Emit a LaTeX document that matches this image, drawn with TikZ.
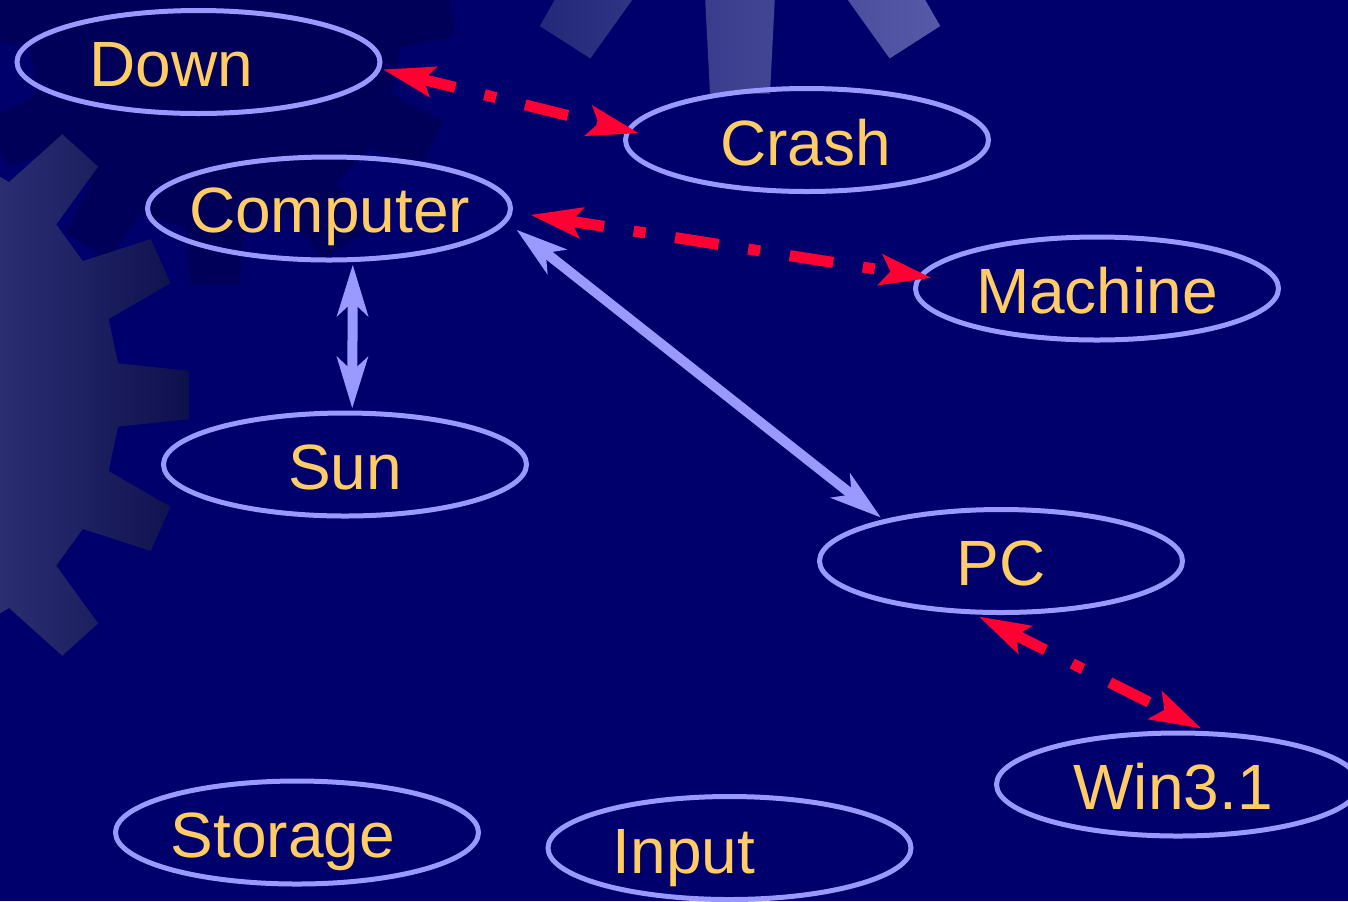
\documentclass[tikz,border=0pt]{standalone}
\usepackage{fontspec}
\setmainfont{Liberation Sans}
\usetikzlibrary{arrows.meta,shapes.geometric}

\definecolor{bgnavy}{RGB}{0,0,108}
\definecolor{rim}{RGB}{153,153,255}
\definecolor{gold}{RGB}{255,204,102}
\definecolor{alert}{RGB}{255,0,51}
\definecolor{cogdark}{RGB}{0,0,88}
\definecolor{cogleftA}{RGB}{44,48,116}
\definecolor{cogleftB}{RGB}{30,33,98}
\definecolor{cogleftC}{RGB}{10,11,72}
\definecolor{cogtopA}{RGB}{34,38,118}
\definecolor{cogtopB}{RGB}{88,92,170}

% outline of a cog: centre, teeth, tip radius, root radius,
% tip half-angle, root half-angle, direction of the first tooth
\newcommand{\cogpath}[7]{(#1) +({#7-#6}:#4)
  \foreach \k in {1,...,#2}{
    -- +({#7+(\k-1)*360/#2-#6}:#4)
    -- +({#7+(\k-1)*360/#2-#5}:#3)
    -- +({#7+(\k-1)*360/#2+#5}:#3)
    -- +({#7+(\k-1)*360/#2+#6}:#4)
  } -- cycle}

\tikzset{
  blob/.style={ellipse, draw=rim, line width=2.5pt, minimum width=181.5pt,
    minimum height=51.5pt, inner sep=0pt, outer sep=0pt},
  word/.style={text=gold, font=\fontsize{32pt}{38pt}\selectfont,
    anchor=base, inner sep=0pt},
  hotlink/.style={alert, line width=5.5pt,
    dash pattern=on 22pt off 15pt on 6pt off 15pt, dash phase=5.5pt,
    {Stealth[length=26pt,width=16pt,inset=5.5pt,line width=0pt]}-{Stealth[length=26pt,width=16pt,inset=5.5pt,line width=0pt]}},
  coldlink/.style={rim, line width=5pt,
    {Stealth[length=26pt,width=16pt,inset=7.5pt,line width=0pt]}-{Stealth[length=26pt,width=16pt,inset=7.5pt,line width=0pt]}}
}

\begin{document}
\begin{tikzpicture}[x=0.5pt, y=-0.5pt]
  \useasboundingbox (0,0) rectangle (1348,901);
  \fill[bgnavy] (0,0) rectangle (1348,901);
  \clip (0,0) rectangle (1348,901);

  % cogs in the background
  \fill[cogdark] \cogpath{215,45}{11}{240}{185}{6}{9}{90};
  \begin{scope}
    \clip \cogpath{-140,395}{15}{330}{260}{4.2}{7}{0};
    \shade[left color=cogleftA, middle color=cogleftB, right color=cogleftC]
      (-10,0) rectangle (215,901);
  \end{scope}
  \begin{scope}
    \clip \cogpath{740,-230}{11}{325}{200}{5.3}{10.5}{90};
    \shade[left color=cogtopA, right color=cogtopB] (520,-10) rectangle (960,110);
  \end{scope}

  % concept nodes
  \node[blob] (down)     at (198.5,62)  {};
  \node[blob] (crash)    at (807,140)   {};
  \node[blob] (computer) at (329,208.5) {};
  \node[blob] (machine)  at (1097,288.5) {};
  \node[blob] (sun)      at (345,464.5) {};
  \node[blob] (pc)       at (1001,561)  {};
  \node[blob] (win)      at (1178,784.5) {};
  \node[blob] (storage)  at (297,832.5) {};
  \node[blob] (input)    at (729.5,848) {};

  \node[word] (downtxt)     at (171.5,86.5) {Down};
  \node[word] (crashtxt)    at (805.5,165)  {Crash};
  \node[word] (computertxt) at (329.5,232)  {Computer};
  \node[word] (machinetxt)  at (1097,313)   {Machine};
  \node[word] (suntxt)      at (345,489)    {Sun};
  \node[word] (pctxt)       at (1001,585.5) {PC};
  \node[word] (wintxt)      at (1173,809)   {Win3.1};
  \node[word] (storagetxt)  at (283,857)    {Storage};
  \node[word] (inputtxt)    at (684,873)    {Input};

  % links
  \draw[hotlink, shorten <=2.5pt, shorten >=-5.1pt] (down.-2.16) -- (crash.177.06);
  \draw[hotlink, shorten <=10.5pt, shorten >=-5.15pt] (computer.-1.56) -- (machine.176.75);
  \draw[coldlink, shorten <=7.35pt, shorten >=3.15pt] (computer.-4.99) -- (pc.161.67);
  \draw[coldlink, shorten <=2.7pt, shorten >=2.5pt] (computer.-65.76) -- (sun.82.25);
  \draw[hotlink, shorten <=5.6pt, shorten >=6.25pt] (pc.-122.9) -- (win.56.19);
\end{tikzpicture}
\end{document}
